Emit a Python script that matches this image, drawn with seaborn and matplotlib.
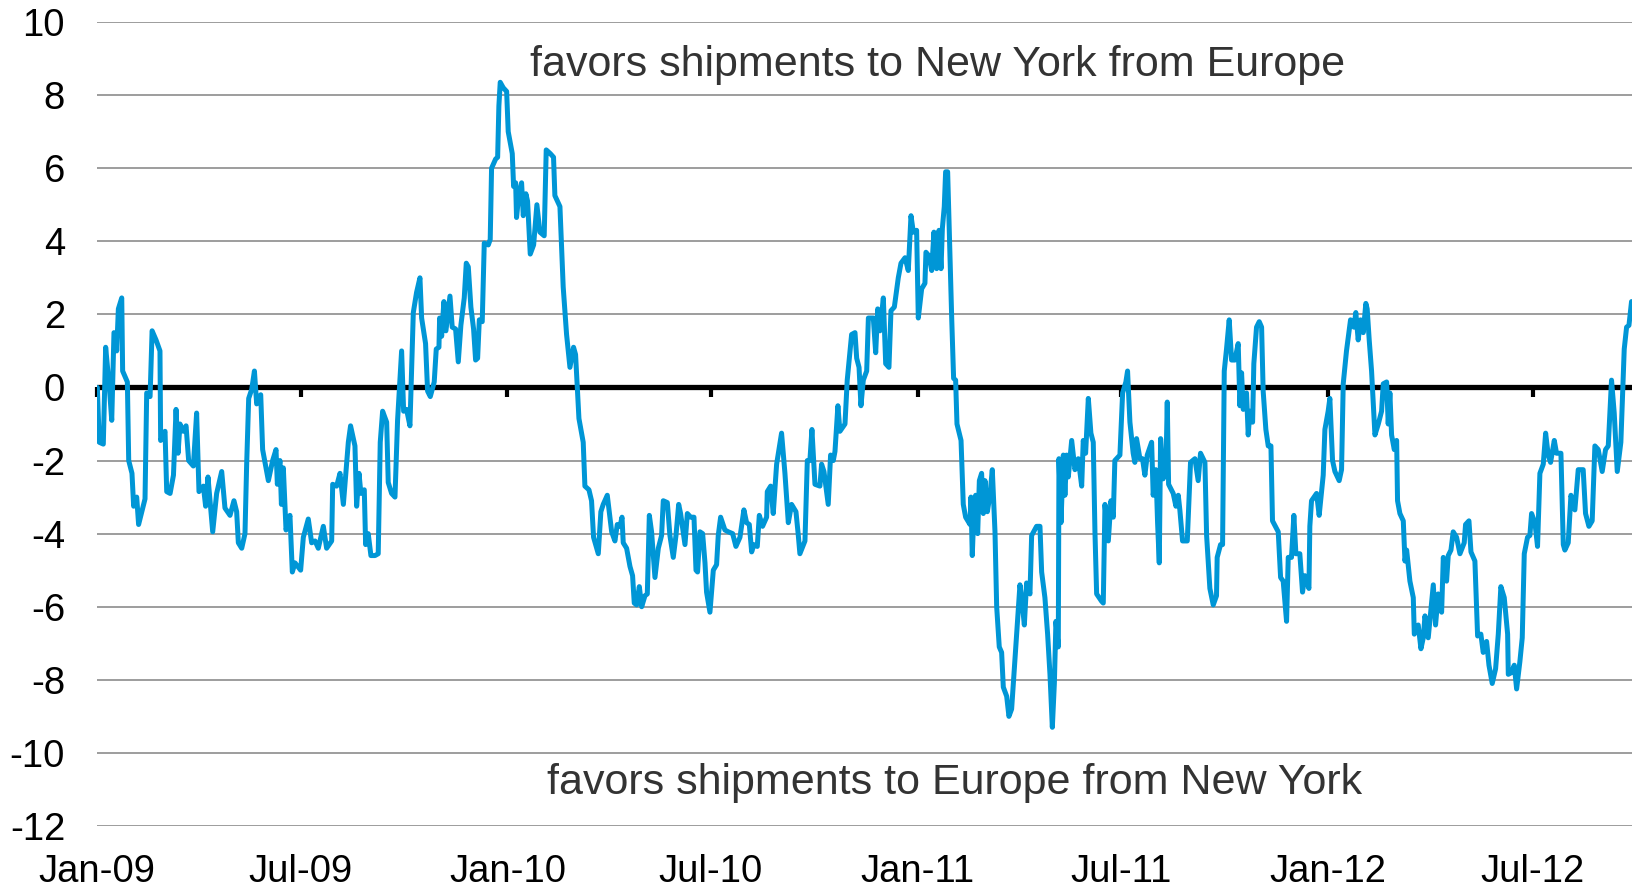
import pandas as pd
import matplotlib
matplotlib.use("Agg")
import matplotlib.pyplot as plt
import matplotlib.dates as mdates
import seaborn as sns

# ==================================================
# DATA  (days counted from 2009-01-01, spread value)
# ==================================================

START = pd.Timestamp("2009-01-01")
END = pd.Timestamp("2012-09-28")

days_2009 = [
    0.3, 2.0, 5.6, 7.7, 11.0, 13.1, 15.1, 16.9, 17.5, 19.0, 22.0, 22.8, 27.0, 28.2,
    31.1, 32.6, 35.3, 37.0, 42.7, 44.2, 47.2, 49.0, 52.5, 56.0, 56.6, 60.5, 62.0,
    65.0, 68.0, 70.3, 72.1, 73.8, 76.8, 79.2, 81.5, 85.7, 88.6, 90.7, 94.6, 96.6,
    98.7, 102.9, 106.4, 110.9, 113.8, 118.3, 121.8, 124.2, 125.7, 128.7, 131.6,
    133.1, 134.9, 137.6, 140.0, 142.0, 145.6, 147.3, 152.4, 156.2, 159.2, 160.4,
    162.7, 164.0, 165.7, 168.1, 171.6, 173.7, 176.1, 181.1, 183.5, 187.9, 190.9,
    193.9, 196.8, 201.3, 204.2, 208.7, 209.6, 213.1, 216.1, 219.1, 223.5, 225.5,
    229.4, 230.9, 233.0, 234.7, 237.7, 238.9, 241.2, 243.6, 247.2, 250.1, 251.9,
    254.0, 257.6, 259.0, 262.0, 265.0, 267.3, 270.9, 272.7, 275.3, 278.3, 281.3,
    284.2, 287.2, 288.7, 292.2, 294.0, 296.4, 299.9, 301.7, 304.1, 304.7, 306.5,
    308.5, 310.3, 313.9, 315.9, 318.9, 321.3, 323.6, 326.6, 328.4, 330.2, 332.5,
    334.9, 336.7, 338.5, 340.0, 342.6, 344.4, 348.0, 349.7, 350.9, 354.5, 356.3,
    357.4, 358.6, 361.3, 364.3,
]
vals_2009 = [
    0.0, -1.5, -1.55, 1.1, 0.0, -0.9, 1.5, 1.45, 1.0, 2.15, 2.45, 0.45, 0.15, -2.0,
    -2.35, -3.25, -3.0, -3.75, -3.05, -0.15, -0.25, 1.55, 1.3, 1.0, -1.45, -1.2, -2.85,
    -2.9, -2.4, -0.6, -1.8, -1.0, -1.2, -1.05, -2.0, -2.15, -0.7, -2.85, -2.7, -3.25,
    -2.45, -3.95, -2.9, -2.3, -3.3, -3.5, -3.1, -3.4, -4.25, -4.4, -4.0,
    -2.1, -0.3, -0.05, 0.45, -0.45, -0.2, -1.7, -2.55, -2.0, -1.7, -2.65,
    -2.0, -3.2, -2.2, -3.9, -3.5, -5.05, -4.8, -5.0, -4.1, -3.6, -4.25,
    -4.2, -4.4, -3.8, -4.4, -4.2, -2.65, -2.7, -2.35, -3.2, -1.5, -1.05,
    -1.6, -3.25, -2.35, -2.9, -2.8, -4.3, -4.0, -4.6, -4.6, -4.55, -1.5,
    -0.65, -0.95, -2.6, -2.9, -3.0, -0.9, 1.0, -0.65, -0.6, -1.05, 2.05,
    2.6, 3.0, 1.9, 1.2, -0.1, -0.25, 0.15, 1.05, 1.1, 1.9, 1.4,
    2.35, 1.55, 2.5, 1.65, 1.6, 0.7, 1.7, 2.45, 3.4, 3.3, 2.2,
    1.6, 0.75, 0.8, 1.85, 1.8, 3.95, 3.9, 4.05, 6.0, 6.25, 6.3,
    7.7, 8.35, 8.2, 8.1,
]

days_2010 = [
    365.7, 369.3, 370.5, 372.3, 373.1, 375.2, 377.6, 379.1, 381.4, 382.9, 385.3,
    388.3, 391.2, 393.9, 397.7, 399.5, 403.1, 406.0, 407.2, 411.7, 414.6, 417.6,
    420.6, 423.8, 425.6, 428.6, 432.4, 433.9, 437.5, 439.8, 441.6, 445.8, 448.1,
    450.2, 453.8, 457.7, 460.6, 462.7, 465.1, 466.9, 468.0, 471.0, 474.0, 476.3,
    477.8, 479.9, 482.3, 484.4, 487.3, 489.4, 491.2, 493.2, 496.2, 499.2, 502.1,
    503.6, 507.2, 509.5, 512.5, 514.9, 517.3, 519.0, 522.9, 525.0, 528.0, 530.9,
    532.7, 534.1, 536.2, 538.6, 540.7, 542.1, 545.1, 548.1, 551.0, 552.5, 554.6,
    558.4, 561.4, 565.3, 568.2, 571.8, 575.3, 577.7, 580.1, 582.2, 584.2, 587.2,
    589.0, 591.9, 595.5, 596.1, 599.1, 601.4, 604.4, 608.8, 611.8, 614.8, 617.7,
    621.6, 623.7, 625.1, 629.6, 631.7, 634.0, 635.8, 638.5, 642.9, 644.4, 646.5,
    650.3, 652.4, 654.8, 656.3, 658.9, 660.7, 665.2, 667.2, 671.1, 674.1, 675.6,
    677.7, 679.4, 681.5, 684.5, 686.0, 690.4, 692.5, 694.3, 696.3, 699.3, 701.4,
    704.3, 706.1, 709.1, 712.6, 715.0, 718.6, 721.5, 723.9, 726.0, 728.9,
]
vals_2010 = [
    7.0, 6.4, 5.5, 5.6, 4.65, 5.3, 5.6, 4.7, 5.3, 5.1, 3.65,
    3.9, 5.0, 4.25, 4.15, 6.5, 6.4, 6.3, 5.25, 4.95, 2.75, 1.45,
    0.55, 1.1, 0.9, -0.85, -1.5, -2.7, -2.8, -3.1, -4.1, -4.55, -3.4,
    -3.2, -2.95, -3.95, -4.2, -3.75, -3.8, -3.55, -4.25, -4.4, -4.9, -5.15,
    -5.9, -5.95, -5.45, -6.0, -5.7, -5.65, -3.5, -3.95, -5.2, -4.4, -4.05,
    -3.1, -3.15, -4.05, -4.65, -4.05, -3.2, -3.45, -4.3, -3.45, -3.55, -3.55,
    -5.0, -5.05, -3.95, -4.0, -4.8, -5.6, -6.15, -5.0, -4.85, -4.05, -3.55,
    -3.9, -3.95, -4.0, -4.35, -4.1, -3.35, -3.7, -3.75, -4.5, -4.3, -4.35,
    -3.5, -3.8, -3.55, -2.85, -2.7, -3.45, -2.1, -1.25, -2.35, -3.7, -3.2,
    -3.4, -4.05, -4.55, -4.2, -2.0, -2.0, -1.15, -2.65, -2.7, -2.1, -2.3,
    -3.2, -1.85, -2.0, -1.75, -0.5, -1.2, -1.0, 0.2, 1.45, 1.5, 0.8,
    0.55, -0.5, 0.2, 0.45, 1.9, 1.9, 0.95, 2.15, 1.55, 2.45, 0.65,
    0.55, 2.1, 2.2, 3.0, 3.4, 3.55, 3.2, 4.7, 4.25, 4.3,
]

days_2011 = [
    730.4, 733.4, 736.3, 737.2, 739.9, 742.3, 744.3, 746.7, 748.8, 750.6, 751.8,
    753.5, 754.7, 756.5, 758.0, 760.1, 761.8, 763.6, 764.8, 768.4, 770.4, 772.5,
    776.4, 777.2, 778.4, 780.2, 781.4, 783.2, 784.7, 786.7, 788.2, 789.7, 791.8,
    794.1, 796.2, 798.6, 800.1, 802.4, 804.5, 806.0, 809.0, 811.0, 813.4, 816.4,
    818.4, 820.8, 822.3, 824.7, 826.7, 829.7, 831.2, 835.6, 838.6, 840.1, 843.0,
    845.4, 847.5, 849.6, 851.4, 852.8, 854.9, 855.5, 857.3, 859.4, 860.8, 862.3,
    863.8, 866.8, 869.7, 872.7, 875.7, 877.1, 879.2, 881.6, 883.9, 886.0, 887.5,
    889.0, 893.4, 894.9, 896.4, 899.4, 901.7, 903.8, 905.2, 909.7, 912.1, 915.0,
    916.5, 918.6, 921.5, 923.0, 924.5, 927.5, 929.8, 931.9, 934.0, 937.9, 939.3,
    941.7, 943.2, 944.7, 945.9, 948.2, 950.6, 951.8, 953.0, 957.1, 959.5, 961.6,
    963.0, 965.4, 969.6, 972.5, 976.4, 979.3, 981.4, 985.3, 986.8, 989.7, 992.7,
    995.6, 996.2, 999.2, 1001.0, 1002.5, 1004.5, 1006.9, 1009.0, 1011.9, 1014.9,
    1016.4, 1017.9, 1019.4, 1022.3, 1023.8, 1025.3, 1027.7, 1028.8, 1031.2, 1033.6,
    1035.7, 1037.1, 1039.5, 1041.6, 1044.0, 1045.4, 1050.5, 1052.6, 1054.9, 1057.9,
    1059.4, 1062.3, 1064.4, 1066.2, 1069.7, 1072.1, 1074.2, 1077.8, 1078.6, 1080.1,
    1084.6, 1086.9, 1090.5, 1092.0, 1094.9,
]
vals_2011 = [
    1.9, 2.7, 2.85, 3.7, 3.6, 3.2, 4.25, 3.25, 4.3, 3.25, 4.35,
    4.95, 5.9, 5.9, 4.25, 1.9, 0.25, 0.2, -1.0, -1.45, -3.2, -3.55,
    -3.75, -3.0, -4.6, -3.1, -2.95, -4.0, -2.55, -2.35, -3.45, -2.55, -3.4,
    -2.95, -2.25, -3.95, -6.0, -7.1, -7.25, -8.2, -8.45, -9.0, -8.8, -7.4,
    -6.5, -5.4, -5.75, -6.5, -5.35, -5.65, -4.05, -3.8, -3.8, -5.05, -5.75,
    -6.75, -7.85, -9.3, -8.1, -6.4, -7.1, -1.95, -3.7, -1.85, -2.95, -1.85,
    -2.45, -1.45, -2.25, -1.95, -2.7, -1.45, -1.8, -0.3, -1.25, -1.5, -3.95,
    -5.65, -5.85, -5.9, -3.2, -4.2, -3.1, -3.55, -2.0, -1.85, -0.15, 0.15,
    0.45, -0.95, -1.8, -2.05, -1.4, -1.95, -1.95, -2.4, -1.85, -1.5, -2.95,
    -2.25, -3.7, -4.8, -1.4, -2.5, -2.25, -0.4, -2.65, -2.9, -3.25, -2.95,
    -3.35, -4.2, -4.2, -2.05, -1.95, -2.55, -1.8, -2.05, -4.05, -5.5, -5.95,
    -5.7, -4.65, -4.3, -4.3, 0.45, 1.05, 1.85, 0.75, 0.75, 1.2,
    -0.5, 0.4, -0.6, -0.15, -1.3, -0.65, -0.95, 0.65, 1.65, 1.8,
    1.65, -0.1, -1.15, -1.6, -1.6, -3.65, -3.95, -5.2, -5.3, -6.4,
    -4.65, -4.65, -3.5, -4.55, -4.55, -5.6, -5.15, -5.5, -3.8, -3.1,
    -2.9, -3.5, -2.4, -1.15, -0.65,
]

days_2012 = [
    1096.4, 1098.8, 1100.9, 1104.7, 1106.8, 1108.3, 1111.2, 1114.8, 1117.8, 1119.5,
    1121.6, 1123.7, 1126.1, 1128.4, 1129.6, 1131.4, 1133.5, 1136.5, 1139.5, 1142.4,
    1143.9, 1146.9, 1148.3, 1149.8, 1151.3, 1153.7, 1155.8, 1156.6, 1158.7, 1161.7,
    1163.2, 1164.7, 1167.6, 1170.6, 1171.5, 1175.0, 1177.4, 1179.5, 1181.0, 1183.9,
    1188.4, 1190.4, 1192.8, 1195.8, 1197.3, 1200.2, 1201.7, 1204.1, 1206.1, 1209.1,
    1212.1, 1215.9, 1217.1, 1220.1, 1221.9, 1225.4, 1227.8, 1230.7, 1232.8, 1235.8,
    1237.9, 1240.8, 1243.8, 1246.2, 1248.5, 1251.5, 1254.5, 1255.1, 1258.0, 1260.4,
    1262.5, 1265.4, 1267.5, 1269.3, 1272.2, 1274.3, 1275.8, 1278.8, 1281.1, 1283.2,
    1286.2, 1288.3, 1290.6, 1292.7, 1296.0, 1298.0, 1301.9, 1304.0, 1305.4, 1308.4,
    1310.8, 1314.3, 1317.3, 1321.7, 1323.8, 1326.8, 1329.7, 1332.1, 1335.1, 1338.6,
    1341.6, 1344.0, 1346.9, 1349.3, 1352.0, 1355.2, 1358.2, 1360.3, 1362.4, 1364.7,
]
vals_2012 = [
    -0.3, -2.0, -2.3, -2.55, -2.25, 0.1, 1.0, 1.85, 1.65, 2.05,
    1.3, 1.85, 1.5, 2.3, 2.15, 1.3, 0.45, -1.3, -1.0, -0.65,
    0.1, 0.15, -1.0, -0.15, -1.3, -1.7, -1.45, -3.1, -3.45, -3.65,
    -4.75, -4.45, -5.3, -5.75, -6.75, -6.5, -7.15, -6.85, -6.25, -6.85,
    -5.4, -6.5, -5.65, -6.15, -4.65, -5.3, -4.6, -4.45, -3.95, -4.1,
    -4.55, -4.25, -3.75, -3.65, -4.5, -4.75, -6.8, -6.75, -7.25, -6.95,
    -7.6, -8.1, -7.7, -6.75, -5.45, -5.75, -6.75, -7.85, -7.8, -7.6,
    -8.25, -7.5, -6.85, -4.55, -4.1, -4.05, -3.45, -3.7, -4.35, -2.35,
    -2.1, -1.25, -1.85, -2.05, -1.45, -1.8, -1.8, -4.3, -4.45, -4.25,
    -2.95, -3.35, -2.25, -2.25, -3.45, -3.8, -3.65, -1.6, -1.7, -2.3,
    -1.7, -1.6, 0.2, -0.7, -2.3, -1.5, 1.05, 1.65, 1.7, 2.35,
]

tick_dates = ["2009-01-01", "2009-07-01", "2010-01-01", "2010-07-01",
              "2011-01-01", "2011-07-01", "2012-01-01", "2012-07-01"]
tick_labels = ["Jan-09", "Jul-09", "Jan-10", "Jul-10",
               "Jan-11", "Jul-11", "Jan-12", "Jul-12"]
y_ticks = [-12, -10, -8, -6, -4, -2, 0, 2, 4, 6, 8, 10]

upper_note = "favors shipments to New York from Europe"
lower_note = "favors shipments to Europe from New York"

# ==================================================
# BUILD FRAME
# ==================================================

days = days_2009 + days_2010 + days_2011 + days_2012
vals = vals_2009 + vals_2010 + vals_2011 + vals_2012

df = pd.DataFrame({
    "date": START + pd.to_timedelta(days, unit="D"),
    "spread": vals
})

tick_nums = mdates.date2num(pd.to_datetime(tick_dates))

# ==================================================
# PLOT
# ==================================================

sns.set_style("white")
plt.rcParams["font.family"] = ["Liberation Sans", "DejaVu Sans"]
plt.rcParams["axes.unicode_minus"] = False

fig = plt.figure(figsize=(16.33, 8.88), dpi=100)
ax = fig.add_axes([97 / 1633, 62 / 888, 1536 / 1633, 804 / 888])

ax.grid(axis="y", color="#8c8c8c", linewidth=1.2)
ax.set_axisbelow(True)

ax.axhline(0, color="black", linewidth=3.8, zorder=2)

sns.lineplot(
    data=df,
    x="date",
    y="spread",
    ax=ax,
    color="#0096d6",
    linewidth=3.6,
    estimator=None,
    zorder=3
)

ax.set_xlim(START, END)
ax.set_ylim(-12, 10)
ax.set_yticks(y_ticks)
ax.set_xticks(tick_nums)
ax.set_xticklabels(tick_labels)
ax.set_xlabel("")
ax.set_ylabel("")

ax.tick_params(axis="both", length=0, labelsize=27.5, labelcolor="black")
ax.tick_params(axis="y", pad=23)
ax.tick_params(axis="x", pad=20)

for side in ["top", "bottom", "left", "right"]:
    ax.spines[side].set_visible(False)

# tick marks hanging below the zero line
zero_axis = ax.secondary_xaxis(12 / 22)
zero_axis.set_alignment("bottom")
zero_axis.set_xticks(tick_nums)
zero_axis.tick_params(
    axis="x",
    direction="out",
    length=7.5,
    width=3,
    color="black",
    labelbottom=False,
    labeltop=False
)
for side in ["top", "bottom"]:
    zero_axis.spines[side].set_visible(False)

ax.text(0.5475, 0.946, upper_note, transform=ax.transAxes,
        ha="center", va="center", fontsize=31, color="#333333")
ax.text(0.5586, 0.054, lower_note, transform=ax.transAxes,
        ha="center", va="center", fontsize=31, color="#333333")

fig.savefig("out.png", dpi=100)
plt.close(fig)
